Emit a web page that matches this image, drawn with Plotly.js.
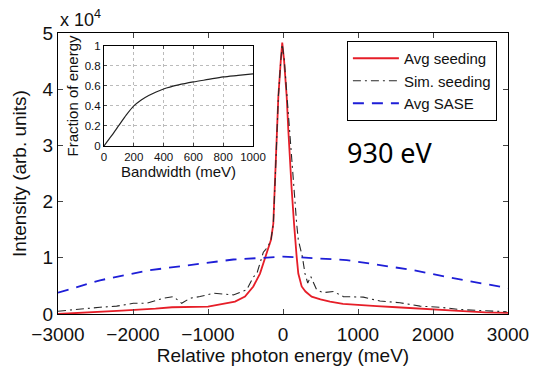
<!DOCTYPE html>
<html>
<head>
<meta charset="utf-8">
<script src="https://cdn.plot.ly/plotly-3.0.1.min.js"></script>
<style>html,body{margin:0;padding:0;background:#fff;}#chart{width:533px;height:370px;}</style>
</head>
<body>
<div id="chart"></div>
<script>
// Main plot: intensity (x 10^4) vs relative photon energy (meV)
const seedX = [-3000,-2600,-2150,-1700,-1480,-1000,-640,-507,-396,-307,-231,-160,-129,-107,-84,-62,-30,-10,15,49,71,107,116,147,160,182,204,249,300,382,500,627,800,982,1250,1516,1960,2400,2700,3000];
const seedY = [0.0,0.024,0.06,0.094,0.12,0.13,0.22,0.31,0.49,0.72,1.02,1.32,1.61,2.3,3.1,3.87,4.5,4.83,4.5,3.87,3.27,2.33,2.21,1.61,1.32,1.02,0.72,0.49,0.4,0.31,0.26,0.22,0.18,0.16,0.14,0.12,0.08,0.05,0.03,0.02];

const simX = [-3000,-2929,-2662,-2440,-2218,-1996,-1818,-1596,-1462,-1351,-1240,-1107,-929,-662,-484,-396,-351,-262,-230,-200,-160,-129,-107,-84,-62,-30,-10,15,49,80,138,151,182,204,258,293,330,369,449,538,671,804,1071,1293,1560,1827,2093,2360,2627,2982];
const simY = [0.05,0.06,0.10,0.12,0.14,0.19,0.19,0.28,0.31,0.19,0.28,0.31,0.37,0.34,0.43,0.66,0.71,1.1,1.15,1.2,1.32,1.61,2.3,3.1,3.87,4.5,4.8,4.55,3.95,3.3,2.33,2.21,1.61,1.32,1.02,0.72,0.55,0.67,0.43,0.38,0.40,0.31,0.30,0.23,0.20,0.14,0.12,0.08,0.06,0.04];

const saseX = [-3000,-2440,-1773,-1107,-662,-262,0,200,538,849,1293,1738,2182,2627,3000];
const saseY = [0.38,0.60,0.78,0.90,0.97,1.0,1.02,1.01,0.99,0.96,0.87,0.78,0.66,0.55,0.46];

// Inset: fraction of energy vs bandwidth (meV)
const bwX = [0,50,100,150,200,250,300,350,400,500,600,700,800,900,1000];
const fracY = [0,0.10,0.205,0.31,0.40,0.46,0.505,0.54,0.57,0.61,0.64,0.665,0.69,0.705,0.72];

const ftxt = 'Liberation Sans, Arial, sans-serif';

const traces = [
  {x: seedX, y: seedY, type:'scatter', mode:'lines', name:'Avg seeding',
   line:{color:'rgb(230,30,40)', width:1.8}},
  {x: simX, y: simY, type:'scatter', mode:'lines', name:'Sim. seeding',
   line:{color:'rgb(40,40,40)', width:1.1, dash:'8px,4px,2px,4px'}},
  {x: saseX, y: saseY, type:'scatter', mode:'lines', name:'Avg SASE',
   line:{color:'rgb(30,30,215)', width:1.8, dash:'11px,8px'}},
  {x: bwX, y: fracY, type:'scatter', mode:'lines', showlegend:false,
   xaxis:'x2', yaxis:'y2', line:{color:'#222', width:1.2, shape:'spline', smoothing:0.8}}
];

const layout = {
  width:533, height:370,
  margin:{l:58, r:25, t:33, b:56},
  paper_bgcolor:'#fff', plot_bgcolor:'#fff',
  font:{family:ftxt, color:'#111'},
  showlegend:true,
  legend:{x:0.642, y:0.9715, xanchor:'left', yanchor:'top',
    bgcolor:'#fff', bordercolor:'#000', borderwidth:1, itemwidth:46,
    font:{size:15, family:ftxt}, tracegroupgap:0},
  xaxis:{range:[-3000,3000], dtick:1000, tick0:0, ticks:'inside', ticklen:5,
    mirror:'ticks', showline:true, linecolor:'#000', linewidth:1,
    zeroline:false, showgrid:false, tickfont:{size:19}, ticklabelstandoff:3,
    title:{text:'Relative photon energy (meV)', font:{size:19}, standoff:2}},
  yaxis:{range:[0,5], dtick:1, ticks:'inside', ticklen:5,
    mirror:'ticks', showline:true, linecolor:'#000', linewidth:1,
    zeroline:false, showgrid:false, tickfont:{size:19},
    title:{text:'Intensity (arb. units)', font:{size:19}, standoff:10}},
  xaxis2:{domain:[0.1022,0.4333], anchor:'y2', range:[0,1000], dtick:200,
    ticks:'inside', ticklen:3, mirror:'ticks', showline:true, linecolor:'#000',
    linewidth:1, zeroline:false, showgrid:true, gridcolor:'#bbb', griddash:'dot',
    tickfont:{size:11.5}, title:{text:'Bandwidth (meV)', font:{size:15}, standoff:0}},
  yaxis2:{domain:[0.598,0.954], anchor:'x2', range:[0,1], dtick:0.2,
    ticks:'inside', ticklen:3, mirror:'ticks', showline:true, linecolor:'#000',
    linewidth:1, zeroline:false, showgrid:true, gridcolor:'#bbb', griddash:'dot',
    tickfont:{size:11.5}, title:{text:'Fraction of energy', font:{size:15}, standoff:2}},
  annotations:[
    {text:'x 10<sup>4</sup>', xref:'paper', yref:'paper', x:0, y:1.003,
     xanchor:'left', yanchor:'bottom', showarrow:false, font:{size:18, family:ftxt}},
    {text:'930 eV', xref:'paper', yref:'paper', x:0.738, y:0.573,
     xanchor:'center', yanchor:'middle', showarrow:false,
     font:{size:27, family:'Noto Sans, Open Sans, sans-serif', color:'#000'}}
  ]
};

Plotly.newPlot('chart', traces, layout, {displayModeBar:false, staticPlot:true});
</script>
</body>
</html>
